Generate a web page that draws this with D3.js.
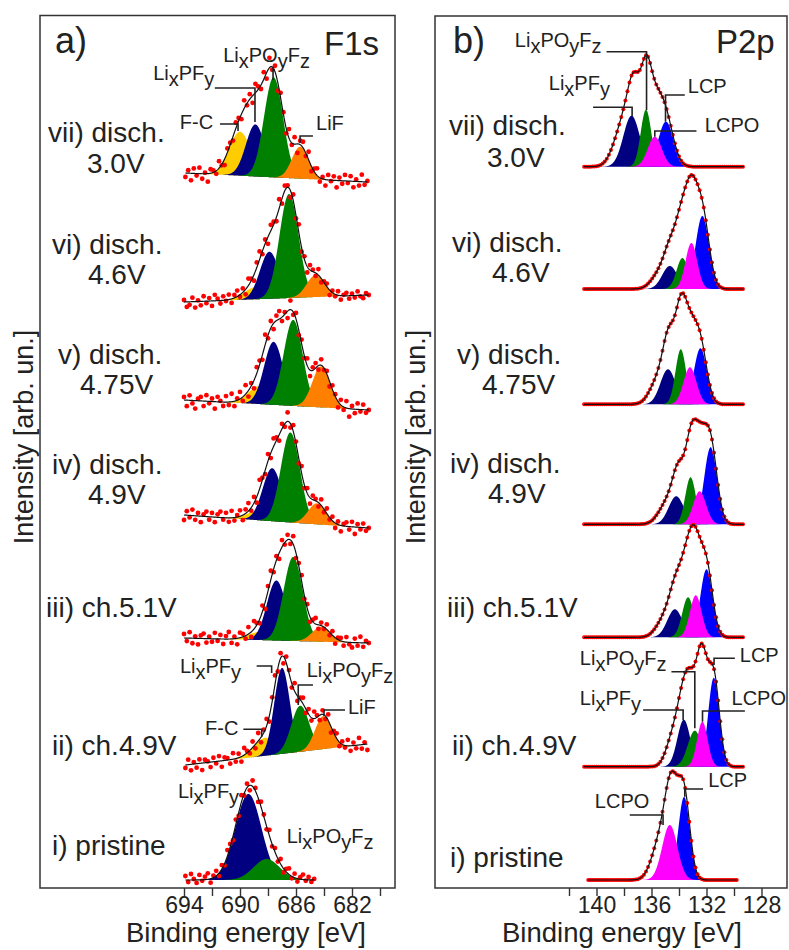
<!DOCTYPE html>
<html>
<head>
<meta charset="utf-8">
<script src="https://cdn.jsdelivr.net/npm/d3@7"></script>
<style>
  body { margin: 0; background: #fff; }
  text { font-family: "Liberation Sans", Arial, sans-serif; fill: #222; }
</style>
</head>
<body>
<div id="chart"></div>
<script>
// spectra, top to bottom
var spectrumLabels = [["vii) disch.", "3.0V"], ["vi) disch.", "4.6V"], ["v) disch.", "4.75V"],
  ["iv) disch.", "4.9V"], ["iii) ch.5.1V"], ["ii) ch.4.9V"], ["i) pristine"]];

// ---- F1s (panel a) ----
var f1sNames = ["F-C", "LixPFy", "LixPOyFz", "LiF"];
var f1sColors = ["#ffcc00", "#000080", "#008000", "#ff8000"];
var f1sPeakE = [
  [690.0, 688.9, 687.6, 685.7],
  [688.9, 687.9, 686.5, 684.6],
  [688.6, 687.6, 686.2, 684.2],
  [688.7, 687.7, 686.4, 684.5],
  [688.6, 687.4, 686.2, 684.2],
  [688.2, 687.0, 685.7, 684.05],
  [null, 689.4, 688.1, null]
];
var f1sPeakH = [
  [44, 52, 100, 32],
  [12, 47, 104, 22],
  [18, 63, 86, 41],
  [9, 53, 90, 21],
  [8, 60, 84, 15],
  [18, 86, 46, 33],
  [0, 86, 21, 0]
];
var f1sFwhm = [
  [1.8, 1.6, 1.6, 1.4],
  [1.9, 1.6, 1.6, 1.5],
  [1.9, 1.6, 1.6, 1.5],
  [1.9, 1.6, 1.6, 1.5],
  [1.9, 1.6, 1.6, 1.5],
  [1.9, 1.3, 1.5, 1.4],
  [0, 2.2, 2.2, 0]
];
// background (stack offset) at start / end of the scan
var f1sBgStart = [715, 586, 488, 373, 250, 123, 8];
var f1sBgEnd = [706, 593, 478, 360, 245, 144, 8];
var f1sRange = [[693.9, 680.9], [694.0, 680.8], [694.0, 680.8], [694.0, 680.8], [694.0, 680.8], [693.9, 680.9], [693.9, 684.7]];
var f1sStep = 0.2;
var f1sNoise = [
  [-4, 3, -7, 5, -2, 6, -5, 1, -8, 4, 2, -3, 7, -1, -6, 4, 2, -4, 6, 3, -5, 8, -2, 5, -7, 9, 3, -4, 7, -6, 10, -3, 6, -8, 5, 2, -5, 9, -2, 7, -9, 4, 6, -3, 8, -5, 3, 7, -4, 2, -6, 5, -1, 4, -7, 3, -3, 6, -2, 5, -6, 2, -4, 7, -3, 1],
  [2, -5, -3, 4, -6, 1, -4, 5, -2, 3, -5, 6, 2, -3, 4, -1, 5, -4, 3, 6, -2, 4, -5, 7, 2, -6, 5, 8, -3, 4, -7, 6, 3, -4, 9, -5, 5, 2, -7, 6, -3, 8, -4, 3, -6, 5, 2, -3, 6, -4, 1, 3, -5, 2, -2, 4, -4, 1, 3, -3, 2, -2, 4, -1, -3, 2],
  [3, -6, 5, -3, -8, 2, 4, -5, 6, -2, 3, -7, 5, 1, -4, 6, -3, 8, -5, 2, 7, -4, 9, -6, 3, -8, 6, 4, -5, 10, -3, 7, -6, 5, 8, -4, 2, -7, 9, -3, 6, -5, 4, -2, 7, -6, 3, 5, -4, 6, -2, 3, -5, 4, 2, -6, 5, -3, 7, -8, 3, -4, 6, -2, 5, -3],
  [-5, 4, -2, 6, -4, 3, -6, 2, 5, -3, 4, -5, 3, 6, -2, 5, -4, 7, -3, 2, 6, -5, 4, 8, -3, 6, -6, 9, 2, -4, 7, -5, 8, 3, -6, 5, -3, 9, -4, 6, 2, -5, 7, -3, 5, -6, 4, 2, -4, 6, -3, 5, -2, 4, -5, 3, -6, 2, 4, -3, 5, -7, 3, -2, 4, -3],
  [4, -3, 6, -5, 2, -6, 3, 5, -4, 2, -3, 6, -2, 4, -5, 3, 7, -4, 2, -6, 5, 3, -3, 7, -5, 8, 2, -4, 6, -7, 5, 9, -3, 4, -6, 7, -2, 5, -4, 8, -5, 3, 6, -3, 4, -5, 2, 6, -4, 3, -2, 5, -3, 4, -6, 2, 3, -4, 5, -2, -5, 4, -3, 6, -4, 2],
  [-3, 5, -6, 2, -4, 4, -7, 3, 1, -5, 4, -2, 5, -6, 3, 2, -4, 6, -3, 4, -5, 7, 2, -3, 6, -4, 8, -5, 3, 7, -6, 4, 9, -3, 5, -7, 6, 3, -4, 8, -5, 2, 6, -4, 5, -3, 7, 2, -5, 4, -3, 6, -6, 2, 5, -4, 3, -2, 6, -5, 3, -3, 7, -4, 2, -6],
  [4, -2, 6, 1, -3, 5, -1, 3, 6, -4, 2, 5, -3, 4, -2, 6, 3, -4, 5, -3, 7, -2, 4, -5, 6, 3, -4, 5, 2, -3, 6, -2, 4, -3, 5, -4, 3, 6, -2, 4, -3, 2, 5, -1, 3, -2, 1]
];

// ---- P2p (panel b) ----  (2p3/2 components shown, 2p1/2 partner in envelope)
var p2pNames = ["LixPFy", "LixPOyFz", "LCP", "LCPO"];
var p2pColors = ["#000080", "#008000", "#0000ff", "#ff00ff"];
var p2pPeakE = [
  [137.45, 136.4, 134.95, 135.76],
  [134.67, 133.75, 132.3, 133.1],
  [134.8, 133.87, 132.44, 133.2],
  [134.2, 133.16, 131.7, 132.5],
  [134.3, 133.34, 132.0, 132.78],
  [133.65, 132.85, 131.47, 132.3],
  [null, null, 133.63, 134.67]
];
var p2pPeakH = [
  [51, 57, 45, 30],
  [23, 31, 73, 46],
  [35, 55, 56, 37],
  [28, 47, 77, 33],
  [28, 40, 68, 42],
  [47, 36, 89, 45],
  [0, 0, 83, 55]
];
var p2pFwhm = [
  [1.4, 0.9, 1.3, 1.2],
  [1.3, 1.0, 1.15, 1.0],
  [1.3, 0.9, 1.1, 1.1],
  [1.3, 0.9, 1.1, 1.1],
  [1.3, 1.0, 1.05, 1.0],
  [1.1, 1.2, 0.95, 0.9],
  [0, 0, 1.0, 1.3]
];
var p2pBase = [721.3, 599, 483.7, 363.7, 250.7, 121.3, 8];
var p2pRange = [[140.9, 129.3], [140.9, 129.3], [140.9, 129.3], [140.9, 129.3], [140.9, 129.3], [140.9, 129.3], [140.6, 129.8]];
var p2pStep = 0.15;
var p2pSplit = 0.87, p2pRatio = 0.5;

// annotations: spectrum index, text, text anchor [E, I], leader [[E, I], ...]
var f1sNotes = [
  { s: 0, t: "Li_xPO_yF_z", at: [691.2, 826], path: [[687.64, 821], [687.64, 808]] },
  { s: 0, t: "Li_xPF_y", at: [696.2, 808], path: [[691.8, 800], [688.93, 800], [688.93, 766]] },
  { s: 0, t: "F-C", at: [694.3, 759], path: [[691.43, 764], [690.14, 764], [690.14, 757]] },
  { s: 0, t: "LiF", at: [684.57, 758], path: [[684.79, 752], [685.71, 752], [685.71, 745]] },
  { s: 5, t: "Li_xPF_y", at: [694.29, 215], path: [[688.81, 222], [687.74, 222], [687.74, 215]] },
  { s: 5, t: "Li_xPO_yF_z", at: [685.24, 211], path: [[684.79, 203], [685.84, 203], [685.84, 183]] },
  { s: 5, t: "LiF", at: [682.29, 174], path: [[682.5, 178], [684.0, 178], [684.0, 172]] },
  { s: 5, t: "F-C", at: [692.5, 153], path: [[689.76, 158.7], [688.45, 158.7], [688.45, 151.3]] },
  { s: 6, t: "Li_xPF_y", at: [694.43, 90], path: [] },
  { s: 6, t: "Li_xPO_yF_z", at: [686.66, 45], path: [] }
];
var p2pNotes = [
  { s: 0, t: "Li_xPO_yF_z", at: [145.94, 841], path: [[139.27, 836.3], [136.36, 836.3], [136.36, 778]] },
  { s: 0, t: "Li_xPF_y", at: [143.47, 798], path: [[140.25, 780.7], [137.41, 780.7], [137.41, 772]] },
  { s: 0, t: "LCP", at: [133.36, 795], path: [[133.58, 793], [134.98, 793], [134.98, 766.3]] },
  { s: 0, t: "LCPO", at: [132.12, 756], path: [[132.73, 757], [135.76, 757], [135.76, 751.3]] },
  { s: 5, t: "Li_xPO_yF_z", at: [141.21, 223], path: [[134.55, 216.3], [132.85, 216.3], [132.85, 159.7]] },
  { s: 5, t: "Li_xPF_y", at: [141.21, 183], path: [[136.61, 178], [133.7, 178], [133.7, 168]] },
  { s: 5, t: "LCP", at: [129.58, 226], path: [[129.94, 229.7], [131.45, 229.7], [131.45, 223]] },
  { s: 5, t: "LCPO", at: [130.18, 183], path: [[129.21, 177], [132.29, 177], [132.29, 166.3]] },
  { s: 6, t: "LCPO", at: [140.12, 80], path: [[137.58, 73], [135.16, 73], [135.16, 63]] },
  { s: 6, t: "LCP", at: [131.88, 101], path: [[132.25, 99], [133.58, 99], [133.58, 91.3]] }
];

// ---------------------------------------------------------------
var W = 789, H = 950;
var svg = d3.select("#chart").append("svg").attr("width", W).attr("height", H);

// intensity (arb. un.) shared by both panels
var yInt = d3.scaleLinear().domain([0, 873]).range([888, 15]);

function gauss(e, c, h, w) {
  return h * Math.exp(-4 * Math.LN2 * (e - c) * (e - c) / (w * w));
}

function richText(g, str, x, y, size) {
  var t = g.append("text").attr("x", x).attr("y", y).attr("font-size", size);
  var shift = 0;
  str.split(/(_.)/).filter(Boolean).forEach(function(p) {
    var sub = p[0] === "_";
    var target = sub ? 6 : 0;
    t.append("tspan").attr("dy", target - shift).text(sub ? p[1] : p);
    shift = target;
  });
  return t;
}

function buildSpectra(peakE, peakH, fwhm, colors, bgFn, ranges, doublet) {
  return peakE.map(function(row, i) {
    var comps = [];
    row.forEach(function(c, k) {
      if (c != null) comps.push({ c: c, h: peakH[i][k], w: fwhm[i][k], color: colors[k] });
    });
    var bg = bgFn(i);
    var env = function(e) {
      var s = bg(e);
      comps.forEach(function(cp) {
        s += gauss(e, cp.c, cp.h, cp.w);
        if (doublet) s += p2pRatio * gauss(e, cp.c + p2pSplit, cp.h, cp.w);
      });
      return s;
    };
    return { range: ranges[i], bg: bg, comps: comps, env: env };
  });
}

var f1sSpectra = buildSpectra(f1sPeakE, f1sPeakH, f1sFwhm, f1sColors, function(i) {
  return d3.scaleLinear().domain(f1sRange[i]).range([f1sBgStart[i], f1sBgEnd[i]]);
}, f1sRange, false);

var p2pSpectra = buildSpectra(p2pPeakE, p2pPeakH, p2pFwhm, p2pColors, function(i) {
  return function() { return p2pBase[i]; };
}, p2pRange, true);

var panels = [
  {
    letter: "a)", core: "F1s", box: [40, 15.5, 395, 888],
    x: d3.scaleLinear().domain([694, 680]).range([184, 380]),
    ticks: d3.range(694, 679, -2), major: 694,
    spectra: f1sSpectra, step: f1sStep, noise: f1sNoise, dotR: 2.4, notes: f1sNotes,
    letterPos: [55, 53], corePos: [324, 55], yTitleX: 33, xTitleX: 246,
    labelX: [[48, 87], [52, 88], [58, 80], [52, 88], [46], [52], [52]],
    labelY: [[141.7, 173], [254, 284], [364, 394], [474, 504], [617], [755], [855]]
  },
  {
    letter: "b)", core: "P2p", box: [435, 16, 787, 888],
    x: d3.scaleLinear().domain([142, 128]).range([569, 761.5]),
    ticks: d3.range(142, 127, -2), major: 140,
    spectra: p2pSpectra, step: p2pStep, noise: null, dotR: 2.0, notes: p2pNotes,
    letterPos: [453, 53], corePos: [716, 53], yTitleX: 425, xTitleX: 622,
    labelX: [[449, 487], [452, 492], [457, 482], [450, 488], [447], [452], [450]],
    labelY: [[135, 166.7], [252, 282], [364, 394], [473, 503], [617], [755], [867]]
  }
];

panels.forEach(function(p) {
  var x = p.x;
  var g = svg.append("g");

  // frame
  g.append("rect")
    .attr("x", p.box[0]).attr("y", p.box[1])
    .attr("width", p.box[2] - p.box[0]).attr("height", p.box[3] - p.box[1])
    .attr("fill", "none").attr("stroke", "#333").attr("stroke-width", 1.5);

  // spectra
  p.spectra.forEach(function(sp, i) {
    var sg = g.append("g");
    var grid = d3.range(sp.range[0], sp.range[1] - 1e-9, -0.02);

    sp.comps.forEach(function(cp) {
      var pts = grid.filter(function(e) { return Math.abs(e - cp.c) < 2.3 * cp.w; });
      sg.append("path").datum(pts)
        .attr("fill", cp.color)
        .attr("d", d3.area()
          .x(function(e) { return x(e); })
          .y0(function(e) { return yInt(sp.bg(e)); })
          .y1(function(e) { return yInt(sp.bg(e) + gauss(e, cp.c, cp.h, cp.w)); }));
    });

    var dotE = d3.range(sp.range[0], sp.range[1] - 1e-9, -p.step);
    var res = p.noise ? p.noise[i] : null;
    sg.append("g").selectAll("circle")
      .data(dotE)
      .enter()
      .append("circle")
      .attr("cx", function(e) { return x(e); })
      .attr("cy", function(e, j) { return yInt(sp.env(e) + (res && res[j] != null ? res[j] : 0)); })
      .attr("r", p.dotR)
      .attr("fill", "#ff0000");

    sg.append("path").datum(grid)
      .attr("fill", "none").attr("stroke", "#111").attr("stroke-width", 1.2)
      .attr("d", d3.line()
        .x(function(e) { return x(e); })
        .y(function(e) { return yInt(sp.env(e)); }));

    // spectrum label
    spectrumLabels[i].forEach(function(txt, k) {
      g.append("text")
        .attr("x", p.labelX[i][k]).attr("y", p.labelY[i][k])
        .attr("font-size", "28px")
        .text(txt);
    });
  });

  // annotations
  p.notes.forEach(function(n) {
    richText(g, n.t, x(n.at[0]), yInt(n.at[1]), "20px");
    if (n.path.length) {
      g.append("path").datum(n.path)
        .attr("fill", "none").attr("stroke", "#222").attr("stroke-width", 1.6)
        .attr("d", d3.line()
          .x(function(d) { return x(d[0]); })
          .y(function(d) { return yInt(d[1]); }));
    }
  });

  // headings
  g.append("text").attr("x", p.letterPos[0]).attr("y", p.letterPos[1])
    .attr("font-size", "36px").text(p.letter);
  g.append("text").attr("x", p.corePos[0]).attr("y", p.corePos[1])
    .attr("font-size", "33px").text(p.core);

  // x axis
  var axis = d3.axisBottom(x)
    .tickValues(p.ticks)
    .tickSize(8)
    .tickPadding(1)
    .tickFormat(function(d) { return (p.major - d) % 4 === 0 ? d : ""; });
  var ax = g.append("g").attr("transform", "translate(0," + p.box[3] + ")").call(axis);
  ax.select(".domain").remove();
  ax.selectAll("line").attr("stroke", "#333").attr("stroke-width", 1.4);
  ax.selectAll("text").attr("font-size", "23px").attr("fill", "#222")
    .style("font-family", "'Liberation Sans', Arial, sans-serif");

  g.append("text")
    .attr("x", p.xTitleX).attr("y", 942)
    .attr("text-anchor", "middle").attr("font-size", "27.5px")
    .text("Binding energy [eV]");

  g.append("text")
    .attr("transform", "translate(" + p.yTitleX + ",437) rotate(-90)")
    .attr("text-anchor", "middle").attr("font-size", "27px")
    .text("Intensity [arb. un.]");
});
</script>
</body>
</html>
